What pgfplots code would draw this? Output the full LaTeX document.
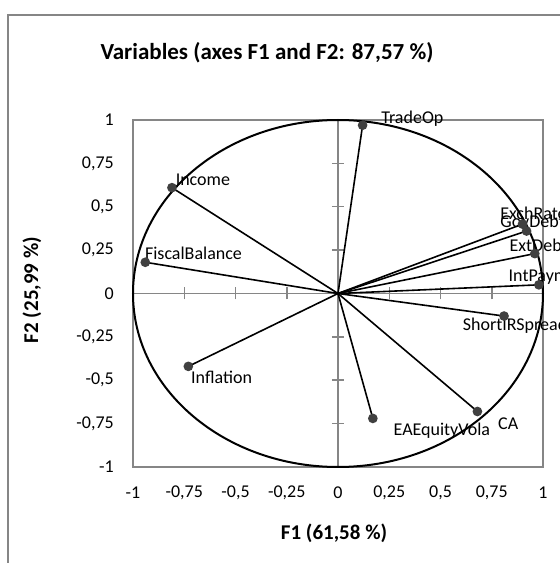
\documentclass[border=0pt]{standalone}
\usepackage{fontspec}
\setmainfont{Carlito}
\usepackage{pgfplots}
\pgfplotsset{compat=1.18}
\definecolor{axgray}{RGB}{134,134,134}
\definecolor{ptgray}{RGB}{64,64,64}
\tikzset{lab/.style={anchor=west, inner sep=0pt, font=\fontsize{18}{20}\selectfont, text=black}}
\pgfplotsset{
  vec/.style={black, line width=1.6pt, mark=*, mark size=4pt, mark indices={2}, mark options={fill=ptgray, draw=ptgray, solid}},
}
\begin{document}
\begin{tikzpicture}[x=1pt,y=1pt]
\useasboundingbox (0,0) rectangle (560,563);
\draw[axgray, line width=1.5pt] (8,-20) -- (8,548) -- (620,548);
% central axes with cross ticks
\begin{axis}[at={(133pt,96pt)}, anchor=south west, width=410pt, height=347pt, scale only axis,
  xmin=-1, xmax=1, ymin=-1, ymax=1,
  axis lines=middle, axis line style={-, axgray, line width=1.6pt},
  xtick={-1,-0.75,...,1}, ytick={-1,-0.75,...,1},
  xticklabels={}, yticklabels={},
  tick align=center, major tick length=12pt, tick style={axgray, line width=1.5pt}]
\end{axis}
% main box axis with data
\begin{axis}[at={(133pt,96pt)}, anchor=south west, width=410pt, height=347pt, scale only axis,
  xmin=-1, xmax=1, ymin=-1, ymax=1, clip=false,
  axis line style={axgray, line width=1.6pt},
  xtick={-1,-0.75,-0.5,-0.25,0,0.25,0.5,0.75,1},
  ytick={-1,-0.75,-0.5,-0.25,0,0.25,0.5,0.75,1},
  xticklabels={{-1},{-0,75},{-0,5},{-0,25},{0},{0,25},{0,5},{0,75},{1}},
  yticklabels={{-1},{-0,75},{-0,5},{-0,25},{0},{0,25},{0,5},{0,75},{1}},
  tick style={draw=none},
  xticklabel style={anchor=center, inner sep=0pt, yshift=-26pt, font=\fontsize{18}{20}\selectfont},
  yticklabel style={anchor=east, inner sep=0pt, xshift=-19pt, font=\fontsize{18}{20}\selectfont},
]
\draw[black, line width=2pt] (axis cs:0,0) ellipse [x radius=1, y radius=1];
\addplot[vec] coordinates {(0,0) (0.12,0.97)} node[lab, pos=1, xshift=18pt, yshift=7pt] {TradeOp};
\addplot[vec] coordinates {(0,0) (-0.81,0.61)} node[lab, pos=1, xshift=3pt, yshift=8pt] {Income};
\addplot[vec] coordinates {(0,0) (-0.94,0.18)} node[lab, pos=1, xshift=-1pt, yshift=9pt] {FiscalBalance};
\addplot[vec] coordinates {(0,0) (-0.73,-0.42)} node[lab, pos=1, xshift=2pt, yshift=-11pt] {Inflation};
\addplot[vec] coordinates {(0,0) (0.17,-0.72)} node[lab, pos=1, xshift=20pt, yshift=-12pt] {EAEquityVola};
\addplot[vec] coordinates {(0,0) (0.68,-0.68)} node[lab, pos=1, xshift=20pt, yshift=-12pt] {CA};
\addplot[vec] coordinates {(0,0) (0.90,0.40)} node[lab, pos=1, xshift=-23pt, yshift=11pt] {ExchRate};
\addplot[vec] coordinates {(0,0) (0.92,0.36)} node[lab, pos=1, xshift=-27pt, yshift=10pt] {GovDebt};
\addplot[vec] coordinates {(0,0) (0.96,0.23)} node[lab, pos=1, xshift=-26pt, yshift=8pt] {ExtDebt};
\addplot[vec] coordinates {(0,0) (0.98,0.05)} node[lab, pos=1, xshift=-31pt, yshift=8pt] {IntPayments};
\addplot[vec] coordinates {(0,0) (0.81,-0.13)} node[lab, pos=1, xshift=-42pt, yshift=-10pt] {ShortIRSpread};
\end{axis}
\node[font=\bfseries\fontsize{23}{26}\selectfont] at (267,510) {Variables (axes F1 and F2: 87,57 \%)};
\node[font=\bfseries\fontsize{21}{24}\selectfont] at (334,30) {F1 (61,58 \%)};
\node[rotate=90, font=\bfseries\fontsize{21}{24}\selectfont] at (32,273) {F2 (25,99 \%)};
\end{tikzpicture}
\end{document}
